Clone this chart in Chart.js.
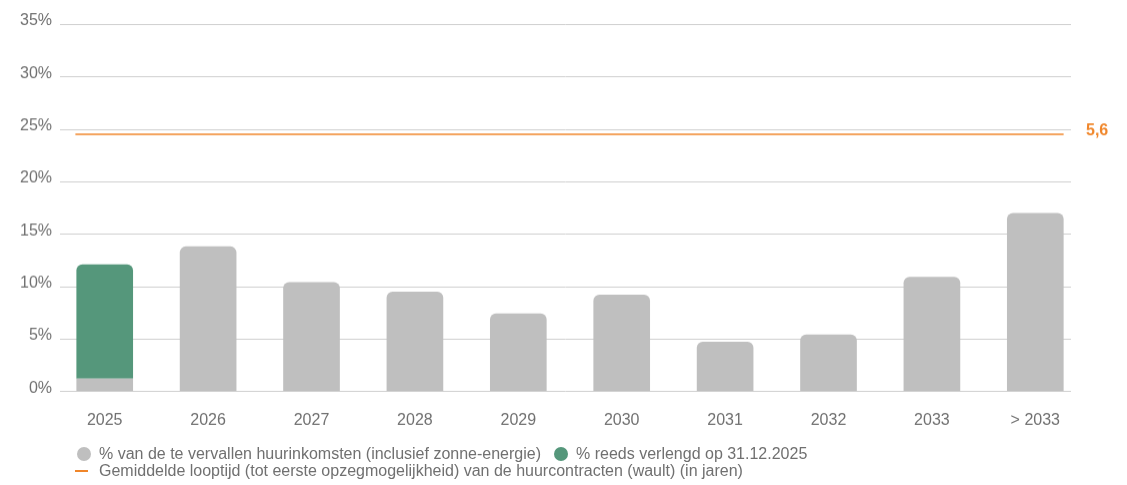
<!DOCTYPE html>
<html><head><meta charset="utf-8">
<script src="https://cdn.jsdelivr.net/npm/chart.js@4/dist/chart.umd.min.js"></script>
<style>
html,body{margin:0;padding:0;background:#fff;}
#wrap{position:relative;width:1127px;height:485px;font-family:'Liberation Sans',Arial,sans-serif;overflow:hidden;}
#box{position:absolute;left:0;top:0;width:1127px;height:460.5px;}
.row{position:absolute;display:flex;align-items:center;font-size:16px;line-height:20px;color:#707070;white-space:nowrap;}
.dot{width:14px;height:14px;border-radius:50%;margin-right:8px;flex:none;}
.dash{width:13px;height:2px;margin-right:11px;flex:none;}
.gap{width:13px;flex:none;}
</style></head>
<body>
<div id="wrap">
  <div id="box"><canvas id="cv"></canvas></div>
  <div class="row" id="row1" style="left:77px;top:444px;"></div>
  <div class="row" id="row2" style="left:75px;top:460.5px;"></div>
</div>
<script>
const categories = ['2025','2026','2027','2028','2029','2030','2031','2032','2033','> 2033'];
const expiringPct = [1.2, 13.8, 10.4, 9.5, 7.4, 9.2, 4.7, 5.4, 10.9, 17.0];
const renewedPct  = [10.9, null, null, null, null, null, null, null, null, null];
const waultYears  = [5.6];
const legendLabels = [
  '% van de te vervallen huurinkomsten (inclusief zonne-energie)',
  '% reeds verlengd op 31.12.2025',
  'Gemiddelde looptijd (tot eerste opzegmogelijkheid) van de huurcontracten (wault) (in jaren)'
];

const GREY = '#bfbfbf', GREEN = '#55977b', ORANGE = '#f0862a', TXT = '#707070';

// HTML legend
(function(){
  const r1 = document.getElementById('row1'), r2 = document.getElementById('row2');
  r1.innerHTML = '<span class="dot" style="background:'+GREY+'"></span><span></span><span class="gap"></span>' +
                 '<span class="dot" style="background:'+GREEN+'"></span><span></span>';
  const spans = r1.querySelectorAll('span:not(.dot):not(.gap)');
  spans[0].textContent = legendLabels[0];
  spans[1].textContent = legendLabels[1];
  r2.innerHTML = '<span class="dash" style="background:'+ORANGE+'"></span><span></span>';
  r2.querySelector('span:not(.dash)').textContent = legendLabels[2];
})();

Chart.defaults.font.family = "'Liberation Sans', Arial, sans-serif";
Chart.defaults.font.size = 16;
Chart.defaults.color = TXT;

const decor = {
  id: 'decor',
  beforeDatasetsDraw(chart) {
    const {ctx, chartArea: a, scales: {y}} = chart;
    ctx.save();
    ctx.strokeStyle = '#cfcfcf';
    ctx.lineWidth = 1;
    y.ticks.forEach(t => {
      const py = Math.round(y.getPixelForValue(t.value)) + 0.5;
      ctx.beginPath();
      ctx.moveTo(a.left + 7, py);
      ctx.lineTo(a.right - 16, py);
      ctx.stroke();
    });
    ctx.restore();
  },
  afterDatasetsDraw(chart) {
    const {ctx, chartArea: a, scales: {y2}} = chart;
    const meta = chart.getDatasetMeta(0);
    const first = meta.data[0], last = meta.data[meta.data.length - 1];
    const py = y2.getPixelForValue(waultYears[0]);
    ctx.save();
    ctx.strokeStyle = ORANGE;
    ctx.lineWidth = 1.5;
    ctx.beginPath();
    ctx.moveTo(first.x - first.width / 2 - 1, py);
    ctx.lineTo(last.x + last.width / 2, py);
    ctx.stroke();
    ctx.fillStyle = ORANGE;
    ctx.font = "bold 16px 'Liberation Sans', Arial, sans-serif";
    ctx.textBaseline = 'middle';
    ctx.textAlign = 'left';
    ctx.fillText(waultYears[0].toFixed(1).replace('.', ','), a.right - 1, py - 3);
    ctx.restore();
  }
};

new Chart(document.getElementById('cv'), {
  type: 'bar',
  data: {
    labels: categories,
    datasets: [
      {
        label: legendLabels[0],
        data: expiringPct,
        backgroundColor: GREY,
        borderWidth: 0,
        borderRadius: ctx => ctx.dataIndex === 0 ? 0 : {topLeft: 6, topRight: 6, bottomLeft: 0, bottomRight: 0},
        barPercentage: 0.548,
        categoryPercentage: 1.0
      },
      {
        label: legendLabels[1],
        data: renewedPct,
        backgroundColor: GREEN,
        borderWidth: 0,
        borderRadius: {topLeft: 6, topRight: 6, bottomLeft: 0, bottomRight: 0},
        barPercentage: 0.548,
        categoryPercentage: 1.0
      }
    ]
  },
  options: {
    responsive: true,
    maintainAspectRatio: false,
    animation: false,
    layout: {padding: {left: 19, right: 40, top: 24, bottom: 11}},
    plugins: {legend: {display: false}, tooltip: {enabled: false}},
    scales: {
      x: {
        stacked: true,
        grid: {display: false, drawTicks: false},
        border: {display: false},
        ticks: {padding: 20, color: TXT, font: {size: 16}}
      },
      y: {
        stacked: true,
        min: 0, max: 35,
        grid: {display: false, drawTicks: false},
        border: {display: false},
        ticks: {stepSize: 5, padding: 1, labelOffset: -3, color: TXT, font: {size: 16},
                callback: v => v + '%'}
      },
      y2: {
        display: false,
        min: 0, max: 8
      }
    }
  },
  plugins: [decor]
});
</script>
</body></html>
